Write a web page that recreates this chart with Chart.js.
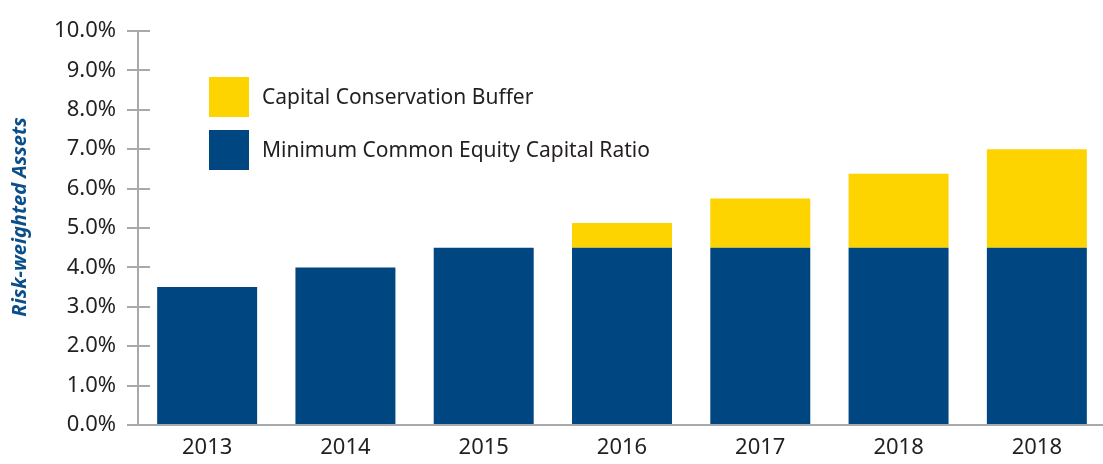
<!DOCTYPE html>
<html>
<head>
<meta charset="utf-8">
<script src="https://cdn.jsdelivr.net/npm/chart.js@4/dist/chart.umd.min.js"></script>
<style>
html,body{margin:0;padding:0;background:#fff;overflow:hidden;}
#wrap{position:relative;width:1106px;height:464px;}
</style>
</head>
<body>
<div id="wrap"><canvas id="c"></canvas></div>
<script>
const categories = ["2013","2014","2015","2016","2017","2018","2018"];
const minimumCET1 = [3.5, 4.0, 4.5, 4.5, 4.5, 4.5, 4.5];
const conservationBuffer = [0, 0, 0, 0.625, 1.25, 1.875, 2.5];
const seriesNames = ["Minimum Common Equity Capital Ratio", "Capital Conservation Buffer"];
const yAxisTitle = "Risk-weighted Assets";

const NAVY = "#004681";
const YELLOW = "#FDD300";
const AXIS = "#a7a9ac";
const TEXT = "#231f20";
const FONT = "'Noto Sans', 'Open Sans', sans-serif";

const innerTicks = {
  id: "innerTicks",
  afterDatasetsDraw(chart) {
    const y = chart.scales.y, ctx = chart.ctx, left = chart.chartArea.left;
    ctx.save();
    ctx.strokeStyle = AXIS; ctx.lineWidth = 2;
    y.ticks.forEach(t => {
      const py = Math.round(y.getPixelForValue(t.value));
      ctx.beginPath(); ctx.moveTo(left, py); ctx.lineTo(left + 12, py); ctx.stroke();
    });
    ctx.restore();
  }
};

const customLegend = {
  id: "customLegend",
  afterDraw(chart) {
    const ctx = chart.ctx, a = chart.chartArea;
    const items = chart.data.datasets.slice().reverse();
    ctx.save();
    ctx.font = "21px " + FONT;
    ctx.textBaseline = "middle";
    items.forEach((ds, i) => {
      const x = a.left + 71, y = a.top + 46 + i * 53;
      ctx.fillStyle = ds.backgroundColor;
      ctx.fillRect(x, y, 40, 40);
      ctx.fillStyle = TEXT;
      ctx.fillText(ds.label, x + 53, y + 21);
    });
    // y axis title
    ctx.translate(20, 217);
    ctx.rotate(-Math.PI / 2);
    ctx.font = "italic bold 20px " + FONT;
    ctx.fillStyle = "#0b4f8a";
    ctx.textAlign = "center";
    ctx.fillText(yAxisTitle, 0, 0);
    ctx.restore();
  }
};

new Chart(document.getElementById("c"), {
  type: "bar",
  data: {
    labels: categories,
    datasets: [
      { label: seriesNames[0], data: minimumCET1, backgroundColor: NAVY, barPercentage: 0.723, categoryPercentage: 1 },
      { label: seriesNames[1], data: conservationBuffer, backgroundColor: YELLOW, barPercentage: 0.723, categoryPercentage: 1 }
    ]
  },
  options: {
    responsive: true,
    maintainAspectRatio: false,
    animation: false,
    layout: { padding: { top: 31, right: 0, left: 0, bottom: 0 } },
    plugins: { legend: { display: false }, tooltip: { enabled: false } },
    scales: {
      x: {
        stacked: true,
        grid: { display: false, drawTicks: false },
        border: { display: true, color: AXIS, width: 2 },
        ticks: { color: TEXT, font: { family: FONT, size: 22 }, padding: 10, maxRotation: 0, autoSkip: false },
        afterFit(s) { s.height = 39; }
      },
      y: {
        stacked: true,
        min: 0, max: 10,
        ticks: { stepSize: 1, color: TEXT, font: { family: FONT, size: 22 }, padding: 11,
                 callback: v => v.toFixed(1) + "%" },
        grid: { drawOnChartArea: false, drawTicks: true, tickLength: 11, color: AXIS, lineWidth: 2 },
        border: { display: true, color: AXIS, width: 2 },
        title: { display: false },
        afterFit(s) { s.width = 138; }
      }
    }
  },
  plugins: [innerTicks, customLegend]
});
</script>
</body>
</html>
